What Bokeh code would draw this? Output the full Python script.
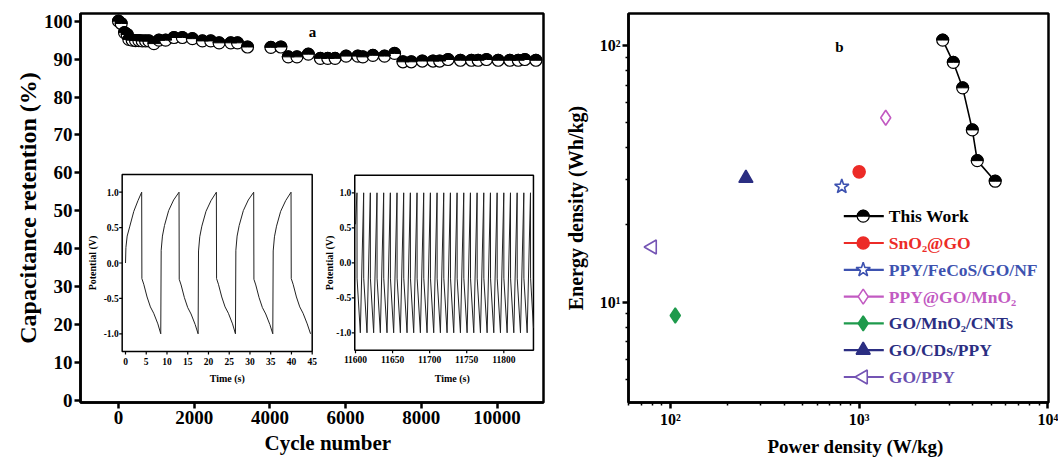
from math import pi
from bokeh.plotting import figure
from bokeh.models import (Range1d, LinearScale, FixedTicker, CustomJSTickFormatter,
                          ColumnDataSource, Title)
from bokeh.layouts import row
from bokeh.core.properties import value
from bokeh.embed import file_html
from bokeh.resources import INLINE

FONT = "Liberation Serif"

# ---------------- panel a : cycling stability ----------------
cycle_number = [0, 71, 159, 230, 274, 362, 450, 538, 627, 715, 803, 936, 1068, 1245, 1466,
                1687, 1952, 2217, 2437, 2658, 2967, 3144, 3409, 4026, 4291, 4485, 4715, 5015,
                5333, 5528, 5722, 6013, 6323, 6456, 6721, 7028, 7293, 7515, 7735, 8026, 8310,
                8485, 8707, 9033, 9325, 9502, 9722, 10032, 10339, 10562, 10736, 11028]
capacitance_retention = [100.0, 99.4, 97.0, 96.5, 95.2, 95.0, 94.9, 94.9, 94.8, 94.8, 94.8,
                         94.1, 95.0, 95.0, 95.7, 95.7, 95.4, 94.8, 94.8, 94.3, 94.3, 94.3, 93.2,
                         93.1, 93.2, 90.6, 90.6, 91.3, 90.2, 90.2, 90.2, 90.8, 90.8, 90.6, 91.0,
                         90.8, 91.5, 89.3, 89.3, 89.5, 89.5, 89.5, 89.9, 89.7, 89.7, 89.7, 89.9,
                         89.7, 89.7, 89.7, 89.9, 89.7]
left_xticks = [0, 2000, 4000, 6000, 8000, 10000]
left_yticks = [0, 10, 20, 30, 40, 50, 60, 70, 80, 90, 100]

# inset 1: first cycles
inset1_time = [0.0, 0.1, 0.4, 1.0, 2.0, 3.0, 3.9,
               3.95, 4.4, 5.2, 6.0, 6.8, 7.8, 8.5,
               8.6, 8.9, 9.4, 10.4, 11.6, 12.9,
               12.95, 13.4, 14.2, 15.0, 15.8, 16.8, 17.5,
               17.6, 17.9, 18.4, 19.4, 20.6, 21.9,
               21.95, 22.4, 23.2, 24.0, 24.8, 25.8, 26.5,
               26.6, 26.9, 27.4, 28.4, 29.6, 30.9,
               30.95, 31.4, 32.2, 33.0, 33.8, 34.8, 35.5,
               35.6, 35.9, 36.4, 37.4, 38.6, 39.9,
               39.95, 40.4, 41.2, 42.0, 42.8, 43.8, 44.6]
inset1_potential = [0.0, 0.22, 0.38, 0.51, 0.73, 0.88, 1.0,
                    -0.22, -0.30, -0.48, -0.62, -0.71, -0.86, -1.0,
                    0.18, 0.38, 0.53, 0.74, 0.89, 1.0,
                    -0.23, -0.31, -0.49, -0.63, -0.72, -0.87, -1.0,
                    0.17, 0.37, 0.52, 0.73, 0.88, 1.0,
                    -0.22, -0.30, -0.48, -0.62, -0.71, -0.86, -1.0,
                    0.18, 0.38, 0.53, 0.74, 0.89, 1.0,
                    -0.23, -0.31, -0.49, -0.63, -0.72, -0.87, -1.0,
                    0.17, 0.37, 0.52, 0.73, 0.88, 1.0,
                    -0.22, -0.30, -0.48, -0.62, -0.71, -0.86, -1.0]
inset1_xticks = [0, 5, 10, 15, 20, 25, 30, 35, 40, 45]
inset1_xlim = (-0.8, 45)

# inset 2: last cycles
inset2_time = [11600.0, 11602.0, 11602.1,
               11606.5, 11611.0, 11611.1, 11615.5, 11620.0, 11620.1,
               11624.5, 11629.0, 11629.1, 11633.5, 11638.0, 11638.1,
               11642.5, 11647.0, 11647.1, 11651.5, 11656.0, 11656.1,
               11660.5, 11665.0, 11665.1, 11669.5, 11674.0, 11674.1,
               11678.5, 11683.0, 11683.1, 11687.5, 11692.0, 11692.1,
               11696.5, 11701.0, 11701.1, 11705.5, 11710.0, 11710.1,
               11714.5, 11719.0, 11719.1, 11723.5, 11728.0, 11728.1,
               11732.5, 11737.0, 11737.1, 11741.5, 11746.0, 11746.1,
               11750.5, 11755.0, 11755.1, 11759.5, 11764.0, 11764.1,
               11768.5, 11773.0, 11773.1, 11777.5, 11782.0, 11782.1,
               11786.5, 11791.0, 11791.1, 11795.5, 11800.0, 11800.1,
               11804.5, 11809.0, 11809.1, 11813.5, 11818.0, 11818.1,
               11822.5, 11827.0, 11827.1, 11831.5, 11836.0, 11836.1,
               11840.0]
inset2_potential = [0.55, 1.0, -0.22,
                    -1.0, 1.0, -0.22, -1.0, 1.0, -0.22,
                    -1.0, 1.0, -0.22, -1.0, 1.0, -0.22,
                    -1.0, 1.0, -0.22, -1.0, 1.0, -0.22,
                    -1.0, 1.0, -0.22, -1.0, 1.0, -0.22,
                    -1.0, 1.0, -0.22, -1.0, 1.0, -0.22,
                    -1.0, 1.0, -0.22, -1.0, 1.0, -0.22,
                    -1.0, 1.0, -0.22, -1.0, 1.0, -0.22,
                    -1.0, 1.0, -0.22, -1.0, 1.0, -0.22,
                    -1.0, 1.0, -0.22, -1.0, 1.0, -0.22,
                    -1.0, 1.0, -0.22, -1.0, 1.0, -0.22,
                    -1.0, 1.0, -0.22, -1.0, 1.0, -0.22,
                    -1.0, 1.0, -0.22, -1.0, 1.0, -0.22,
                    -1.0, 1.0, -0.22, -1.0, 1.0, -0.22,
                    -0.93]
inset2_xticks = [11600, 11650, 11700, 11750, 11800]
inset2_xlim = (11599, 11840)

inset_ylim = (-1.25, 1.25)
inset_yticks = [-1.0, -0.5, 0.0, 0.5, 1.0]
inset_ytick_labels = ["-1.0", "-0.5", "0.0", "0.5", "1.0"]

# ---------------- panel b : Ragone plot ----------------
this_work_power = [2773, 3155, 3538, 3981, 4227, 5262]
this_work_energy = [105.0, 86.0, 68.4, 46.9, 35.6, 29.6]

ref_names = ["SnO₂@GO", "PPY/FeCoS/GO/NF", "PPY@GO/MnO₂", "GO/MnO₂/CNTs", "GO/CDs/PPY", "GO/PPY"]
ref_power = [1000, 809, 1383, 106, 251, 80]
ref_energy = [32.2, 28.2, 52.3, 8.87, 30.4, 16.4]
ref_markers = ["circle", "star", "diamond", "diamond", "triangle", "triangle"]
ref_colors = ["#ec2b27", "#3d52b0", "#c25ac2", "#1e9a4c", "#2b2e82", "#7454b4"]
ref_fills = ["#ec2b27", "white", "white", "#1e9a4c", "#2b2e82", "white"]
ref_text_colors = ["#ec2b27", "#3d52b0", "#c25ac2", "#2b2e82", "#2b2e82", "#6a50b0"]
ref_sizes = [12, 15, 15, 15, 14, 14]
ref_angles = [0, 0, 0, 0, 0, pi / 2]

right_xticks = [100, 1000, 10000]
right_xtick_labels = ["10²", "10³", "10⁴"]
right_xminor = [60, 70, 80, 90, 200, 300, 400, 500, 600, 700, 800, 900,
                2000, 3000, 4000, 5000, 6000, 7000, 8000, 9000]
right_yticks = [10, 100]
right_ytick_labels = ["10¹", "10²"]
right_yminor = [4, 5, 6, 7, 8, 9, 20, 30, 40, 50, 60, 70, 80, 90]


# ---------------- helpers (layout in page pixels) ----------------
def span(d0, p0, d1, p1, f0, f1):
    k = (d1 - d0) / (p1 - p0)
    return Range1d(start=d0 + (f0 - p0) * k, end=d0 + (f1 - p0) * k)


def log_span(e0, p0, e1, p1, f0, f1):
    k = (e1 - e0) / (p1 - p0)
    return Range1d(start=10 ** (e0 + (f0 - p0) * k), end=10 ** (e0 + (f1 - p0) * k))


def to_px(d, m):
    d0, p0, d1, p1 = m
    return p0 + (d - d0) * (p1 - p0) / (d1 - d0)


def style(p, tick_size, xlabel, ylabel, xl_size, yl_size, xl_offset, xl_standoff, yl_standoff):
    p.xgrid.visible = False
    p.ygrid.visible = False
    p.outline_line_color = "black"
    p.outline_line_width = 2.5
    p.background_fill_color = "white"
    p.border_fill_color = "white"
    p.yaxis.axis_label = ylabel
    p.yaxis.axis_label_text_font_size = yl_size
    p.yaxis.axis_label_standoff = yl_standoff
    p.add_layout(Title(text=xlabel, align="left", offset=xl_offset, standoff=xl_standoff,
                       text_font=FONT, text_font_style="bold", text_font_size=xl_size,
                       text_color="black"), "below")
    for ax in (p.xaxis[0], p.yaxis[0]):
        ax.axis_line_width = 2.5
        ax.axis_line_color = "black"
        ax.major_tick_line_width = 2.5
        ax.major_tick_out = 6
        ax.major_tick_in = 0
        ax.minor_tick_line_width = 1.5
        ax.minor_tick_out = 3
        ax.minor_tick_in = 0
        ax.major_label_text_font = FONT
        ax.major_label_text_font_style = "bold"
        ax.major_label_text_font_size = tick_size
        ax.major_label_text_color = "black"
        ax.major_label_standoff = 2
        ax.axis_label_text_font = FONT
        ax.axis_label_text_font_style = "bold"
        ax.axis_label_text_color = "black"


def txt(p, x, y, text, xr, yr, size, align="center", baseline="middle", color="black", angle=0.0):
    p.text(x=x, y=y, text=text, x_range_name=xr, y_range_name=yr,
           text_font=value(FONT), text_font_style="bold", text_font_size=size,
           text_align=align, text_baseline=baseline, text_color=color, angle=angle)


# both panels share top/bottom borders (Bokeh aligns frames in a row)
TOP, BOTTOM, HEIGHT = 13, 402, 464

# ---------------- left figure ----------------
LF = (80, 543, BOTTOM, TOP)  # frame left, right, bottom, top (page px)
p1 = figure(width=560, height=HEIGHT, output_backend="svg", toolbar_location=None,
            x_range=span(0, 118, 10000, 496.5, LF[0], LF[1]),
            y_range=span(0, 400, 100, 20.7, LF[2], LF[3]),
            min_border_left=80, min_border_right=17, min_border_top=TOP,
            min_border_bottom=HEIGHT - BOTTOM)
style(p1, "19px", "Cycle number", "Capacitance retention (%)", "21px", "24px", 184, 4, 0)
p1.xaxis.ticker = FixedTicker(ticks=left_xticks)
p1.yaxis.ticker = FixedTicker(ticks=left_yticks)

m1x = (0, 125.0, 45, 311.7)
m1y = (-1.0, 333.3, 1.0, 191.7)
m2x = (11600, 355.0, 11800, 503.3)
m2y = (-1.0, 332.3, 1.0, 192.3)

p1.extra_x_ranges = {"px": Range1d(LF[0], LF[1]),
                     "i1x": span(*m1x, LF[0], LF[1]),
                     "i2x": span(*m2x, LF[0], LF[1])}
p1.extra_y_ranges = {"py": Range1d(LF[2], LF[3]),
                     "i1y": span(*m1y, LF[2], LF[3]),
                     "i2y": span(*m2y, LF[2], LF[3])}
p1.extra_x_scales = {k: LinearScale() for k in ("px", "i1x", "i2x")}
p1.extra_y_scales = {k: LinearScale() for k in ("py", "i1y", "i2y")}

p1.scatter(cycle_number, capacitance_retention, marker="circle", size=12,
           fill_color="white", line_color="black", line_width=1.2)
p1.wedge(cycle_number, capacitance_retention, radius=6, radius_units="screen",
         start_angle=0, end_angle=pi, fill_color="black", line_color="black", line_width=1.0)


def draw_inset(p, nm, t, v, xlim, xticks, mx, my, time_pos, pot_pos):
    xr, yr = nm + "x", nm + "y"
    p.quad(left=[xlim[0]], right=[xlim[1]], bottom=[inset_ylim[0]], top=[inset_ylim[1]],
           x_range_name=xr, y_range_name=yr, fill_color="white",
           line_color="black", line_width=1.5)
    p.line(t, v, x_range_name=xr, y_range_name=yr, line_color="#222222", line_width=1.0)
    fl = to_px(xlim[0], mx)
    fb = to_px(inset_ylim[0], my)
    n = len(xticks)
    p.segment(x0=xticks, x1=xticks, y0=[fb] * n, y1=[fb + 3] * n,
              x_range_name=xr, y_range_name="py", line_color="black", line_width=1.2)
    txt(p, xticks, [fb + 9.5] * n, [str(x) for x in xticks], xr, "py", "9.5px")
    m = len(inset_yticks)
    p.segment(x0=[fl] * m, x1=[fl - 3] * m, y0=inset_yticks, y1=inset_yticks,
              x_range_name="px", y_range_name=yr, line_color="black", line_width=1.2)
    txt(p, [fl - 3.5] * m, inset_yticks, inset_ytick_labels, "px", yr, "9.5px", align="right")
    txt(p, [time_pos[0]], [time_pos[1]], ["Time (s)"], "px", "py", "10px")
    txt(p, [pot_pos[0]], [pot_pos[1]], ["Potential (V)"], "px", "py", "10px", angle=pi / 2)


draw_inset(p1, "i1", inset1_time, inset1_potential, inset1_xlim, inset1_xticks,
           m1x, m1y, (226.7, 378), (91.7, 262.5))
draw_inset(p1, "i2", inset2_time, inset2_potential, inset2_xlim, inset2_xticks,
           m2x, m2y, (451.7, 378), (328.5, 262.5))

txt(p1, [312], [31], ["a"], "px", "py", "15px")

# ---------------- right figure ----------------
RF = (628, 1048, BOTTOM, TOP)
p2 = figure(width=498, height=HEIGHT, output_backend="svg", toolbar_location=None,
            x_axis_type="log", y_axis_type="log",
            x_range=log_span(2, 670, 4, 1047.3, RF[0], RF[1]),
            y_range=log_span(1, 301.7, 2, 45, RF[2], RF[3]),
            min_border_left=68, min_border_right=10, min_border_top=TOP,
            min_border_bottom=HEIGHT - BOTTOM)
style(p2, "16px", "Power density (W/kg)", "Energy density (Wh/kg)", "19px", "20px", 139, 7, 10)
p2.xaxis.ticker = FixedTicker(ticks=right_xticks, minor_ticks=right_xminor)
p2.yaxis.ticker = FixedTicker(ticks=right_yticks, minor_ticks=right_yminor)
fmt_code = """
const i = tvals.findIndex((t) => Math.abs(t - tick) < 1e-6 * t);
return i >= 0 ? tlabels[i] : "";
"""
p2.xaxis.formatter = CustomJSTickFormatter(args=dict(tvals=right_xticks, tlabels=right_xtick_labels),
                                           code=fmt_code)
p2.yaxis.formatter = CustomJSTickFormatter(args=dict(tvals=right_yticks, tlabels=right_ytick_labels),
                                           code=fmt_code)
p2.extra_x_ranges = {"px": Range1d(RF[0], RF[1])}
p2.extra_y_ranges = {"py": Range1d(RF[2], RF[3])}
p2.extra_x_scales = {"px": LinearScale()}
p2.extra_y_scales = {"py": LinearScale()}

p2.line(this_work_power, this_work_energy, line_color="black", line_width=1.6)
p2.scatter(this_work_power, this_work_energy, marker="circle", size=12,
           fill_color="white", line_color="black", line_width=1.2)
p2.wedge(this_work_power, this_work_energy, radius=6, radius_units="screen",
         start_angle=0, end_angle=pi, fill_color="black", line_color="black", line_width=1.0)

ref_src = ColumnDataSource(dict(x=ref_power, y=ref_energy, marker=ref_markers, color=ref_colors,
                                fill=ref_fills, size=ref_sizes, angle=ref_angles))
p2.scatter("x", "y", source=ref_src, marker="marker", size="size", angle="angle",
           fill_color="fill", line_color="color", line_width=1.6)

# legend (page-pixel coordinates)
leg_x0, leg_x1, leg_mx, leg_tx = 843.3, 883.3, 862.7, 888.3
leg_rows = [215.7 + 26.8 * i for i in range(7)]
leg_line_colors = ["black"] + ref_colors
p2.segment(x0=[leg_x0] * 7, x1=[leg_x1] * 7, y0=leg_rows, y1=leg_rows,
           line_color=leg_line_colors, line_width=2.2, x_range_name="px", y_range_name="py")
p2.scatter([leg_mx], [leg_rows[0]], marker="circle", size=12, fill_color="white",
           line_color="black", line_width=1.2, x_range_name="px", y_range_name="py")
p2.wedge([leg_mx], [leg_rows[0]], radius=6, radius_units="screen", start_angle=0, end_angle=pi,
         fill_color="black", line_color="black", line_width=1.0, x_range_name="px", y_range_name="py")
leg_src = ColumnDataSource(dict(x=[leg_mx] * 6, y=leg_rows[1:], marker=ref_markers,
                                color=ref_colors, fill=ref_fills, size=ref_sizes, angle=ref_angles))
p2.scatter("x", "y", source=leg_src, marker="marker", size="size", angle="angle",
           fill_color="fill", line_color="color", line_width=1.6,
           x_range_name="px", y_range_name="py")
txt(p2, [leg_tx] * 7, leg_rows, ["This Work"] + ref_names, "px", "py", "17.5px",
    align="left", color=["black"] + ref_text_colors)

txt(p2, [839], [46], ["b"], "px", "py", "15px")

layout = row(p1, p2)
open("out.html", "w").write(file_html(layout, INLINE))
